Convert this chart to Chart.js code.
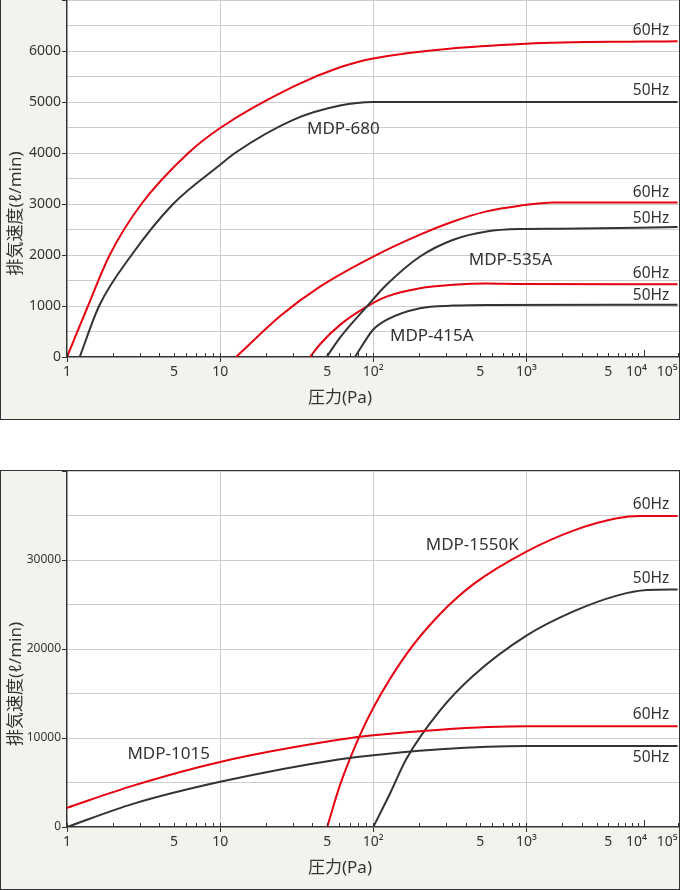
<!DOCTYPE html>
<html>
<head>
<meta charset="utf-8">
<script src="https://cdn.jsdelivr.net/npm/chart.js@4"></script>
<style>
  body { margin: 0; background: #fff; }
  .panel { position: absolute; left: 0; width: 680px; height: 420px; box-sizing: border-box;
           border: 1px solid #333; background: #f3f3ee; }
  #p1 { top: 0; border-top: none; }
  #p2 { top: 470px; }
  canvas { display: block; }
</style>
</head>
<body>
<div class="panel" id="p1"><canvas id="topChart" width="678" height="419"></canvas></div>
<div class="panel" id="p2"><canvas id="bottomChart" width="678" height="418"></canvas></div>
<script>
// x axis ticks (Pa)
const pressureTicks = [1, 2, 3, 4, 5, 6, 7, 8, 9, 10, 20, 30, 40, 50, 60, 70, 80, 90,
  100, 200, 300, 400, 500, 600, 700, 800, 900, 1000, 2000, 3000, 4000, 5000, 6000, 7000,
  8000, 9000, 10000, 100000];
const pressureLabels = { 1: '1', 5: '5', 10: '10', 50: '5', 100: '10²', 500: '5',
  1000: '10³', 5000: '5', 10000: '10⁴\u2002\u2002', 100000: '10⁵\u2002\u2002\u2002' };

// top chart: MDP-680 / MDP-535A / MDP-415A  (pressure Pa, speed l/min)
const p680_60 = [1, 1.37, 1.9, 3.06, 6.2, 10, 30, 60.6, 100, 1000, 10000, 100000];
const v680_60 = [0, 1000, 2000, 3000, 4000, 4490, 5300, 5680, 5855, 6143, 6185, 6190];
const p680_50 = [1.21, 1.62, 2.64, 4.93, 10, 12.5, 30, 60.6, 100, 100000];
const v680_50 = [0, 1000, 2000, 3000, 3770, 4000, 4650, 4930, 5000, 5000];
const p535_60 = [12.7, 25, 44.9, 100, 202, 333, 550, 908, 1700, 100000];
const v535_60 = [0, 820, 1381, 1970, 2400, 2658, 2855, 2967, 3031, 3031];
const p535_50 = [49.6, 60.6, 90.6, 122, 202, 333, 550, 908, 1940, 100000];
const v535_50 = [0, 380, 988, 1415, 1970, 2300, 2462, 2508, 2515, 2548];
const p415_60 = [38.6, 44.9, 60.6, 90.6, 122, 202, 333, 550, 908, 100000];
const v415_60 = [0, 250, 630, 988, 1185, 1349, 1415, 1440, 1430, 1425];
const p415_50 = [75.9, 100, 122, 202, 333, 550, 100000];
const v415_50 = [0, 540, 730, 957, 1008, 1022, 1025];

// bottom chart: MDP-1015 / MDP-1550K
const p1015_60 = [1, 2.7, 10, 60.6, 100, 273, 1000, 100000];
const v1015_60 = [2161, 4650, 7312, 9821, 10302, 10940, 11310, 11310];
const p1015_50 = [1, 2.7, 10, 60.6, 100, 273, 1000, 100000];
const v1015_50 = [0, 2600, 5076, 7613, 8063, 8735, 9107, 9110];
const p1550_60 = [50, 60.6, 79.8, 100, 165, 273, 451, 1000, 2520, 5930, 9380, 100000];
const v1550_60 = [0, 4700, 9900, 13400, 19450, 23930, 27290, 30940, 33300, 34680, 34940, 34940];
const p1550_50 = [100, 128.6, 165, 273, 451, 1000, 2520, 5930, 12600, 100000];
const v1550_50 = [0, 3770, 7690, 13100, 17020, 21500, 24220, 26000, 26620, 26690];

// curve captions (anchor in Pa, l/min)
const topNotes = [
  { text: 'MDP-680', p: 36.9, v: 4460 },
  { text: 'MDP-535A', p: 420, v: 1906 },
  { text: 'MDP-415A', p: 128.5, v: 400 },
  { text: '60Hz', p: 57000, v: 6405, right: true },
  { text: '50Hz', p: 57000, v: 5226, right: true },
  { text: '60Hz', p: 57000, v: 3222, right: true },
  { text: '50Hz', p: 57000, v: 2711, right: true },
  { text: '60Hz', p: 57000, v: 1631, right: true },
  { text: '50Hz', p: 57000, v: 1198, right: true }
];
const bottomNotes = [
  { text: 'MDP-1550K', p: 220, v: 31690 },
  { text: 'MDP-1015', p: 2.48, v: 8170 },
  { text: '60Hz', p: 57000, v: 36260, right: true },
  { text: '50Hz', p: 57000, v: 27940, right: true },
  { text: '60Hz', p: 57000, v: 12580, right: true },
  { text: '50Hz', p: 57000, v: 7830, right: true }
];

const RED = '#e50012';
const DARK = '#333333';
const FONT = '"Noto Sans", "Noto Sans CJK JP", sans-serif';

// log axis with the 10^3-10^4 and 10^4-10^5 decades squeezed
const K1 = 117 / 153;
const K2 = 34 / 153;
function warp(v) {
  const l = Math.log10(v);
  if (l <= 3) return l;
  if (l <= 4) return 3 + (l - 3) * K1;
  return 3 + K1 + (l - 4) * K2;
}
function unwarp(u) {
  if (u <= 3) return Math.pow(10, u);
  if (u <= 3 + K1) return Math.pow(10, 3 + (u - 3) / K1);
  return Math.pow(10, 4 + (u - 3 - K1) / K2);
}

class PressureScale extends Chart.LinearScale {
  static id = 'pressure';
  determineDataLimits() {
    this.min = this.options.min;
    this.max = this.options.max;
  }
  buildTicks() {
    return pressureTicks.map(value => ({ value }));
  }
  getPixelForValue(value) {
    return this.getPixelForDecimal(warp(value) / warp(this.max));
  }
  getValueForPixel(pixel) {
    return unwarp(this.getDecimalForPixel(pixel) * warp(this.max));
  }
}
Chart.register(PressureScale);

function toPoints(ps, vs) {
  return ps.map((p, i) => ({ x: p, y: vs[i] }));
}

function curve(ps, vs, color) {
  return {
    data: toPoints(ps, vs),
    borderColor: color,
    borderWidth: 2,
    pointRadius: 0,
    fill: false,
    cubicInterpolationMode: 'monotone'
  };
}

const decor = {
  id: 'decor',
  beforeDraw(chart) {
    const { ctx, chartArea: a } = chart;
    ctx.save();
    ctx.fillStyle = '#fff';
    ctx.fillRect(a.left, a.top, a.right - a.left, a.bottom - a.top);
    ctx.restore();
  },
  afterDraw(chart, args, opts) {
    const { ctx, chartArea: a, scales } = chart;
    ctx.save();
    // small ticks pointing up into the plot
    ctx.strokeStyle = DARK;
    ctx.lineWidth = 1;
    pressureTicks.forEach(t => {
      const x = Math.round(scales.x.getPixelForValue(t)) + 0.5;
      const len = t === 10000 ? 7 : 4;
      ctx.beginPath();
      ctx.moveTo(x, a.bottom);
      ctx.lineTo(x, a.bottom - len);
      ctx.stroke();
    });
    // axis titles
    ctx.fillStyle = DARK;
    ctx.font = '17px ' + FONT;
    ctx.textAlign = 'center';
    ctx.textBaseline = 'middle';
    ctx.fillText('圧力(Pa)', 339, a.bottom + 41);
    ctx.save();
    ctx.translate(15, a.bottom / 2 + 35);
    ctx.rotate(-Math.PI / 2);
    ctx.fillText('排気速度(ℓ/min)', 0, 0);
    ctx.restore();
    // captions
    opts.notes.forEach(n => {
      ctx.font = (n.right ? '15.5px ' : '17px ') + FONT;
      ctx.textAlign = n.right ? 'right' : 'left';
      ctx.fillText(n.text, scales.x.getPixelForValue(n.p), scales.y.getPixelForValue(n.v));
    });
    ctx.restore();
  }
};

function makeChart(id, datasets, yMax, yStep, yLabelStep, yFontSize, notes) {
  return new Chart(document.getElementById(id), {
    type: 'line',
    data: { datasets },
    plugins: [decor],
    options: {
      responsive: false,
      animation: false,
      devicePixelRatio: 1,
      layout: { padding: 0 },
      plugins: {
        legend: { display: false },
        tooltip: { enabled: false },
        decor: { notes }
      },
      scales: {
        x: {
          type: 'pressure',
          min: 1,
          max: 110000,
          afterFit(s) { s.height = 62; s.paddingLeft = 0; s.paddingRight = 0; },
          border: { color: DARK, width: 1.5 },
          grid: {
            color: c => (c.tick && [10, 100, 1000].includes(c.tick.value)) ? '#cccccc' : 'rgba(0,0,0,0)',
            tickColor: c => (c.tick && [1, 10, 100, 1000].includes(c.tick.value)) ? DARK : 'rgba(0,0,0,0)',
            tickLength: 5
          },
          ticks: {
            autoSkip: false,
            maxRotation: 0,
            padding: 2,
            color: DARK,
            font: { family: FONT, size: 14 },
            callback: v => pressureLabels[v] || ''
          }
        },
        y: {
          min: 0,
          max: yMax,
          afterFit(s) { s.width = 66; s.paddingTop = 0; s.paddingBottom = 0; },
          border: { color: DARK, width: 1.5 },
          grid: {
            color: c => (c.tick && c.tick.value === 0) ? 'rgba(0,0,0,0)' : '#cccccc',
            tickColor: c => (c.tick && c.tick.value % yLabelStep === 0) ? DARK : 'rgba(0,0,0,0)',
            tickLength: 5
          },
          ticks: {
            stepSize: yStep,
            autoSkip: false,
            padding: 1,
            color: DARK,
            font: { family: FONT, size: yFontSize },
            callback: v => (v % yLabelStep === 0 && v < yMax) ? String(v) : ''
          }
        }
      }
    }
  });
}

makeChart('topChart', [
  curve(p680_60, v680_60, RED),
  curve(p680_50, v680_50, DARK),
  curve(p535_60, v535_60, RED),
  curve(p535_50, v535_50, DARK),
  curve(p415_60, v415_60, RED),
  curve(p415_50, v415_50, DARK)
], 7000, 500, 1000, 14, topNotes);

makeChart('bottomChart', [
  curve(p1015_60, v1015_60, RED),
  curve(p1015_50, v1015_50, DARK),
  curve(p1550_60, v1550_60, RED),
  curve(p1550_50, v1550_50, DARK)
], 40000, 5000, 10000, 12, bottomNotes);
</script>
</body>
</html>
